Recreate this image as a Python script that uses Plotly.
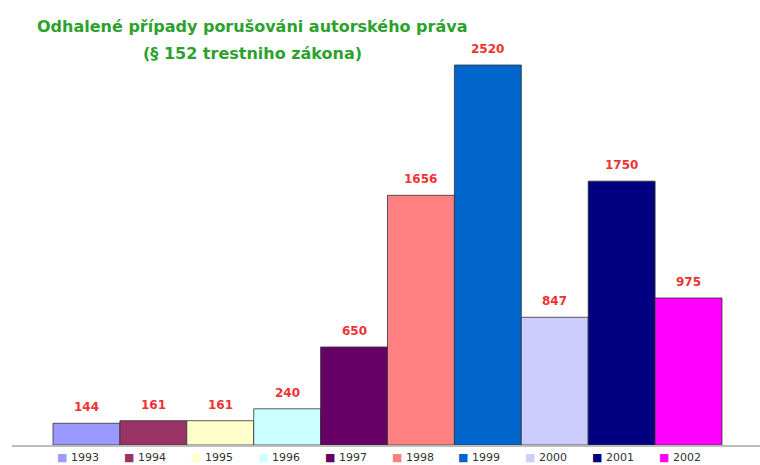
import plotly.graph_objects as go

years = [1993, 1994, 1995, 1996, 1997, 1998, 1999, 2000, 2001, 2002]
cases = [144, 161, 161, 240, 650, 1656, 2520, 847, 1750, 975]
colors = ["#9999FF", "#993366", "#FFFFCC", "#CCFFFF", "#660066",
          "#FF8080", "#0066CC", "#CCCCFF", "#000080", "#FF00FF"]
title_lines = ["Odhalené případy porušováni autorského práva",
               "(§ 152 trestniho zákona)"]

ML, MR, MT, MB = 12, 0, 40, 20
W, H = 760, 465
plot_h = H - MT - MB
plot_w = W - ML - MR


def px_to_paper(px, py):
    return (px - ML) / plot_w, (H - MB - py) / plot_h


fig = go.Figure()
fig.add_trace(go.Bar(
    x=years, y=cases, width=1,
    marker=dict(color=colors, line=dict(color="rgba(50,50,50,0.8)", width=1)),
    cliponaxis=False, showlegend=False, hoverinfo="x+y",
))

# value labels above bars
for yr, v in zip(years, cases):
    fig.add_annotation(
        x=yr, y=v, xref="x", yref="y", text=f"<b>{v}</b>",
        showarrow=False, xanchor="center", yanchor="middle", yshift=16,
        font=dict(family="DejaVu Sans", size=12, color="#EE3333"),
    )

# legend row under the axis
_, leg_y = px_to_paper(0, 457)
for yr, col in zip(years, colors):
    fig.add_annotation(
        x=yr - 0.47, xref="x", xanchor="left",
        y=leg_y, yref="paper", yanchor="middle",
        text=f'<span style="color:{col}">■</span> {yr}',
        showarrow=False,
        font=dict(family="DejaVu Sans", size=11, color="#333333"),
    )

# title
for line, (cx, cy) in zip(title_lines, [(252, 27), (252, 53)]):
    xp, yp = px_to_paper(cx, cy)
    fig.add_annotation(
        x=xp, xref="paper", y=yp, yref="paper", showarrow=False,
        xanchor="center", yanchor="middle",
        text="<b>" + line + "</b>",
        font=dict(family="DejaVu Sans", size=16, color="#2DA12D"),
    )

fig.update_layout(
    width=W, height=H,
    margin=dict(l=ML, r=MR, t=MT, b=MB),
    paper_bgcolor="white", plot_bgcolor="white",
    xaxis=dict(range=[1991.887, 2003.068], showline=True, linecolor="#BBBBBB",
               linewidth=2, showticklabels=False, ticks="", showgrid=False,
               zeroline=False, fixedrange=True),
    yaxis=dict(range=[0, 2686], visible=False, fixedrange=True),
    font=dict(family="DejaVu Sans"),
    showlegend=False,
)

fig.write_html("out.html")
